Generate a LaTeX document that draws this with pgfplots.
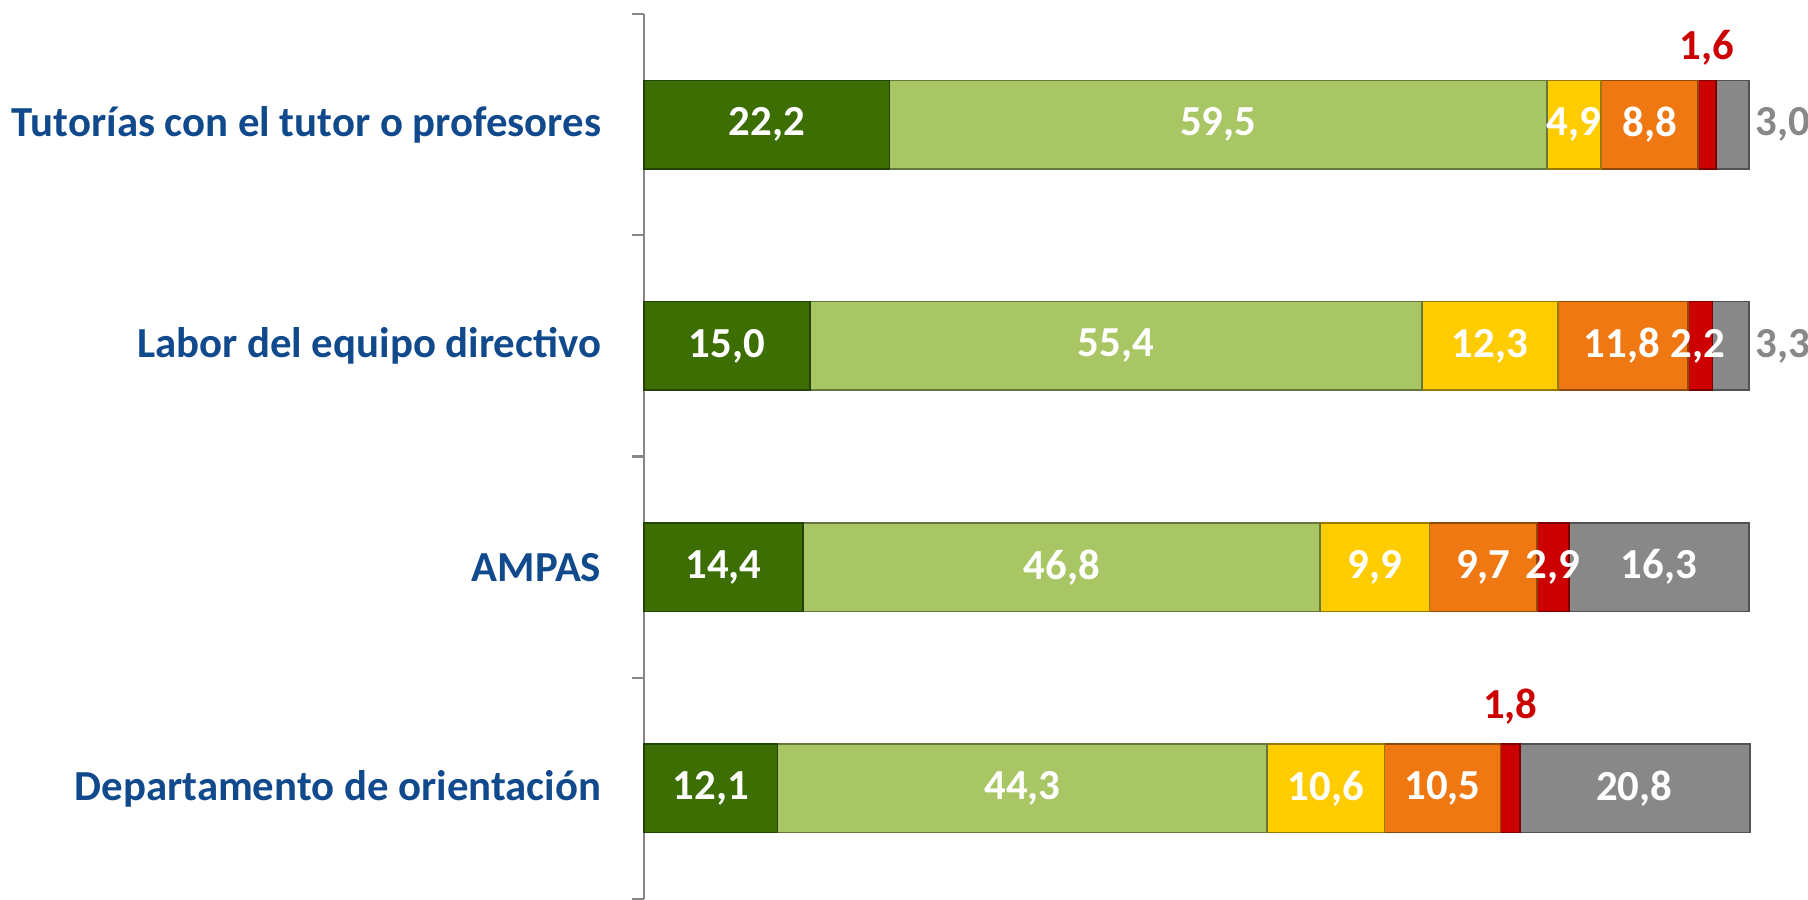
\documentclass[border=0pt]{standalone}
\usepackage{fontspec}
\setmainfont{Carlito}
\usepackage{pgfplots}
\pgfplotsset{compat=1.18}
\usetikzlibrary{calc}

\definecolor{cdkgreen}{RGB}{60,110,4}
\definecolor{cltgreen}{RGB}{168,198,100}
\definecolor{cyellow}{RGB}{255,204,0}
\definecolor{corange}{RGB}{239,120,18}
\definecolor{cred}{RGB}{204,0,0}
\definecolor{cgray}{RGB}{136,136,136}
\definecolor{lblblue}{RGB}{16,74,140}
\definecolor{axisgray}{RGB}{134,134,134}

\pgfplotsset{frame/.style={
    at={(0,0)}, anchor=south west,
    scale only axis,
    width=276.25pt, height=221.25pt,
    xmin=0, xmax=100,
    ymin=-0.5, ymax=3.5,
    clip=false,
}}

% label helper: x, y, text
\newcommand{\wl}[3]{\node[text=white] at (axis cs:#1,#2) {#3};}

\begin{document}
\begin{tikzpicture}[font=\fontsize{10.7}{12}\selectfont\bfseries]
\begin{axis}[
    frame,
    name=ax,
    xbar stacked,
    bar width=0.4,
    hide x axis,
    axis y line*=left,
    ytick={0,1,2,3},
    yticklabels={Departamento de orientación, AMPAS, Labor del equipo directivo, Tutorías con el tutor o profesores},
    minor ytick={-0.5,0.5,1.5,2.5,3.5},
    major tick length=0pt,
    minor tick length=3pt,
    tick align=outside,
    y axis line style={draw=axisgray, line width=0.6pt},
    minor tick style={draw=axisgray, line width=0.6pt},
    yticklabel style={text=lblblue, inner sep=0pt, xshift=-10.5pt,
        font=\fontsize{10.7}{12}\selectfont\bfseries},
]
% order bottom to top: Departamento, AMPAS, Labor, Tutorias
\addplot[fill=cdkgreen, draw=cdkgreen!60!black, line width=0.4pt] coordinates {(12.1,0) (14.4,1) (15.0,2) (22.2,3)};
\addplot[fill=cltgreen, draw=cltgreen!60!black, line width=0.4pt] coordinates {(44.3,0) (46.8,1) (55.4,2) (59.5,3)};
\addplot[fill=cyellow, draw=cyellow!60!black, line width=0.4pt] coordinates {(10.6,0) (9.9,1) (12.3,2) (4.9,3)};
\addplot[fill=corange, draw=corange!60!black, line width=0.4pt] coordinates {(10.5,0) (9.7,1) (11.8,2) (8.8,3)};
\addplot[fill=cred, draw=cred!60!black, line width=0.4pt] coordinates {(1.8,0) (2.9,1) (2.2,2) (1.6,3)};
\addplot[fill=cgray, draw=cgray!60!black, line width=0.4pt] coordinates {(20.8,0) (16.3,1) (3.3,2) (3.0,3)};
\end{axis}

% overlay axis for the value labels, so they sit above the bars
\begin{axis}[frame, hide axis]
% Tutorias
\wl{11.1}{3}{22,2}
\wl{51.95}{3}{59,5}
\wl{84.15}{3}{4,9}
\wl{91.0}{3}{8,8}
\node[text=cred] at (axis cs:96.2,3.346) {1,6};
\node[text=cgray, anchor=west, inner sep=1.5pt] at (axis cs:100,3) {3,0};
% Labor
\wl{7.5}{2}{15,0}
\wl{42.7}{2}{55,4}
\wl{76.55}{2}{12,3}
\wl{88.5}{2}{11,8}
\wl{95.4}{2}{2,2}
\node[text=cgray, anchor=west, inner sep=1.5pt] at (axis cs:100,2) {3,3};
% AMPAS
\wl{7.2}{1}{14,4}
\wl{37.8}{1}{46,8}
\wl{66.15}{1}{9,9}
\wl{75.95}{1}{9,7}
\wl{82.25}{1}{2,9}
\wl{91.85}{1}{16,3}
% Departamento
\wl{6.05}{0}{12,1}
\wl{34.25}{0}{44,3}
\wl{61.7}{0}{10,6}
\wl{72.25}{0}{10,5}
\node[text=cred] at (axis cs:78.4,0.368) {1,8};
\wl{89.6}{0}{20,8}
\end{axis}
\pgfresetboundingbox
\path[use as bounding box] ($(ax.south west)+(-161pt,0)$) rectangle ($(ax.north east)+(14.75pt,3.5pt)$);
\end{tikzpicture}
\end{document}
